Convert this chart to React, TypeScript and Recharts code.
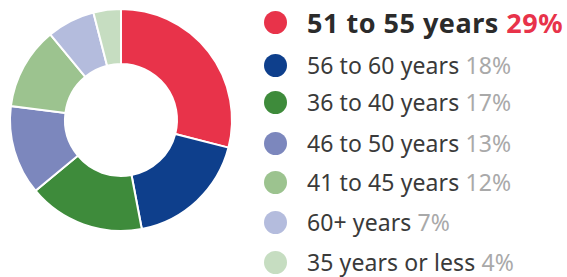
import { PieChart, Pie, Cell, Legend } from 'recharts';

const groups = [
  '51 to 55 years',
  '56 to 60 years',
  '36 to 40 years',
  '46 to 50 years',
  '41 to 45 years',
  '60+ years',
  '35 years or less',
];
const shares = [29, 18, 17, 13, 12, 7, 4];
const colors = ['#e8334a', '#0e3f8c', '#3e8b3b', '#7c87bd', '#9cc38f', '#b4bcdd', '#c6ddc1'];

const data = groups.map((name, i) => ({ name, value: shares[i] }));

// vertical centre of each legend row
const rowMid = [22, 65, 102, 143, 182, 222, 262];

function AgeLegend() {
  return (
    <div style={{ position: 'relative', width: 310, height: 277 }}>
      {data.map((d, i) => {
        const first = i === 0;
        return (
          <div
            key={d.name}
            style={{
              position: 'absolute',
              left: 0,
              top: rowMid[i] - 14,
              height: 28,
              display: 'flex',
              alignItems: 'center',
              whiteSpace: 'nowrap',
            }}
          >
            <span
              style={{
                display: 'inline-block',
                flex: 'none',
                width: 23,
                height: 23,
                borderRadius: '50%',
                background: colors[i],
                marginRight: 20,
              }}
            />
            <span
              style={{
                fontFamily: '"Noto Sans", sans-serif',
                fontSize: first ? 27 : 23,
                lineHeight: 1,
                fontWeight: first ? 700 : 400,
                letterSpacing: first ? 0.5 : 0.1,
                color: first ? '#2b2b2b' : '#3a3a3a',
              }}
            >
              {d.name}{' '}
              <span style={{ color: first ? '#e8334a' : '#a9a9a9' }}>{d.value}%</span>
            </span>
          </div>
        );
      })}
    </div>
  );
}

export default function App() {
  return (
    <div style={{ position: 'absolute', left: 0, top: 0, width: 567, height: 277, background: '#fff' }}>
      <PieChart width={567} height={277} margin={{ top: 0, right: 0, bottom: 0, left: 0 }}>
        <Pie
          data={data}
          dataKey="value"
          nameKey="name"
          cx={121}
          cy={120}
          innerRadius={56}
          outerRadius={111}
          startAngle={90}
          endAngle={-270}
          stroke="#ffffff"
          strokeWidth={2}
          isAnimationActive={false}
        >
          {data.map((d, i) => (
            <Cell key={d.name} fill={colors[i]} />
          ))}
        </Pie>
        <Legend
          content={() => <AgeLegend />}
          wrapperStyle={{ position: 'absolute', left: 264, top: 0, width: 310, height: 277 }}
        />
      </PieChart>
    </div>
  );
}
